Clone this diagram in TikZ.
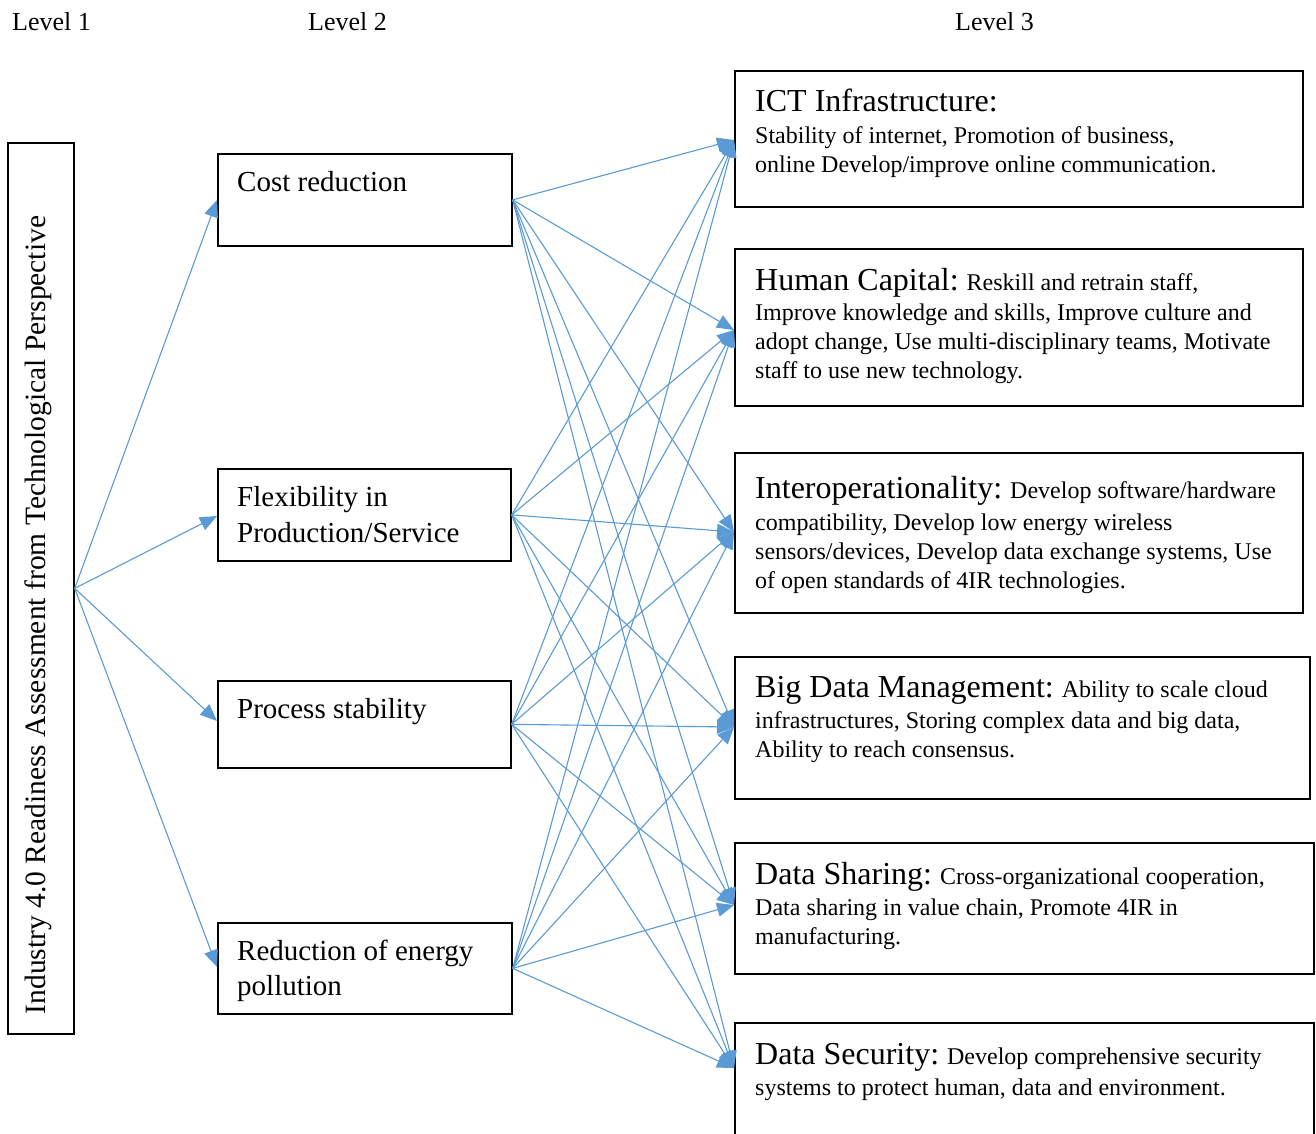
\documentclass[tikz,border=0pt]{standalone}
\usepackage{fontspec}
\setmainfont{Liberation Serif}
\usetikzlibrary{arrows.meta}
\definecolor{arr}{HTML}{5B9BD5}
\newcommand{\ttl}[1]{{\fontsize{32}{36}\selectfont #1}}
\begin{document}
\begin{tikzpicture}[x=1pt,y=-1pt,
  box/.style={draw=black, line width=1.7pt, anchor=north west, inner sep=0pt},
  hdr/.style={anchor=base west, inner sep=0pt, font=\fontsize{26}{29}\selectfont},
  ltwo/.style={anchor=base west, inner sep=0pt, font=\fontsize{29}{34}\selectfont},
  body/.style={anchor=base west, inner sep=0pt, font=\fontsize{24}{29}\selectfont},
  link/.style={draw=arr, line width=1.1pt, -{Triangle[length=17pt,width=14pt]}}]
\clip (0,0) rectangle (1316,1133);
\fill[white] (0,0) rectangle (1316,1133);

% headers
\node[hdr] (h1) at (12,30) {Level 1};
\node[hdr] (h2) at (308,30) {Level 2};
\node[hdr] (h3) at (955,30) {Level 3};

% level 1
\node[box, minimum width=66pt, minimum height=891pt] (l1) at (7,142) {};
\node[rotate=90, inner sep=0pt, font=\fontsize{29.5}{32}\selectfont] (l1t) at (38,615)
  {Industry 4.0 Readiness Assessment from Technological Perspective};

% level 2
\node[box, minimum width=294pt, minimum height=92pt] (cost) at (217,153) {};
\node[box, minimum width=293pt, minimum height=92pt] (flex) at (217,468) {};
\node[box, minimum width=293pt, minimum height=87pt] (proc) at (217,680) {};
\node[box, minimum width=294pt, minimum height=91pt] (red) at (217,922) {};
\node[ltwo] (cost1) at (237,191) {Cost reduction};
\node[ltwo] (flex1) at (237,506) {Flexibility in};
\node[ltwo] (flex2) at (237,542) {Production/Service};
\node[ltwo] (proc1) at (237,718) {Process stability};
\node[ltwo] (red1) at (237,960) {Reduction of energy};
\node[ltwo] (red2) at (237,995) {pollution};

% level 3
\node[box, minimum width=568pt, minimum height=136pt] (ict) at (734,70) {};
\node[box, minimum width=568pt, minimum height=157pt] (hc) at (734,248) {};
\node[box, minimum width=568pt, minimum height=160pt] (io) at (734,452) {};
\node[box, minimum width=575pt, minimum height=142pt] (bd) at (734,656) {};
\node[box, minimum width=579pt, minimum height=131pt] (ds) at (734,842) {};
\node[box, minimum width=579pt, minimum height=140pt] (sec) at (734,1022) {};

\node[body] (ict1) at (755,111) {\ttl{ICT Infrastructure:}};
\node[body] (ict2) at (755,143) {Stability of internet, Promotion of business,};
\node[body] (ict3) at (755,172) {online Develop/improve online communication.};

\node[body] (hc1) at (755,290) {\ttl{Human Capital:} Reskill and retrain staff,};
\node[body] (hc2) at (755,320) {Improve knowledge and skills, Improve culture and};
\node[body] (hc3) at (755,349) {adopt change, Use multi-disciplinary teams, Motivate};
\node[body] (hc4) at (755,378) {staff to use new technology.};

\node[body] (io1) at (755,498) {\ttl{Interoperationality:} Develop software/hardware};
\node[body] (io2) at (755,530) {compatibility, Develop low energy wireless};
\node[body] (io3) at (755,559) {sensors/devices, Develop data exchange systems, Use};
\node[body] (io4) at (755,588) {of open standards of 4IR technologies.};

\node[body] (bd1) at (755,697) {\ttl{Big Data Management:} Ability to scale cloud};
\node[body] (bd2) at (755,728) {infrastructures, Storing complex data and big data,};
\node[body] (bd3) at (755,757) {Ability to reach consensus.};

\node[body] (ds1) at (755,884) {\ttl{Data Sharing:} Cross-organizational cooperation,};
\node[body] (ds2) at (755,915) {Data sharing in value chain, Promote 4IR in};
\node[body] (ds3) at (755,944) {manufacturing.};

\node[body] (sec1) at (755,1064) {\ttl{Data Security:} Develop comprehensive security};
\node[body] (sec2) at (755,1095) {systems to protect human, data and environment.};

% arrow targets on level-3 left edges
\coordinate (tict) at ([yshift=-70pt]ict.north west);
\coordinate (thc) at ([yshift=-82pt]hc.north west);
\coordinate (tio) at ([yshift=-80pt]io.north west);
\coordinate (tbd) at ([yshift=-71pt]bd.north west);
\coordinate (tds) at ([yshift=-63pt]ds.north west);
\coordinate (tsec) at ([yshift=-46pt]sec.north west);

% level 1 -> level 2
\draw[link] (l1.east) -- ([yshift=-47pt]cost.north west);
\draw[link] (l1.east) -- ([yshift=-48pt]flex.north west);
\draw[link] (l1.east) -- ([yshift=-41pt]proc.north west);
\draw[link] (l1.east) -- ([yshift=-45pt]red.north west);

% level 2 -> level 3
\foreach \s in {cost,flex,proc,red}{
  \foreach \t in {tict,thc,tio,tbd,tds,tsec}{
    \draw[link] (\s.east) -- (\t);
  }
}
\end{tikzpicture}
\end{document}
